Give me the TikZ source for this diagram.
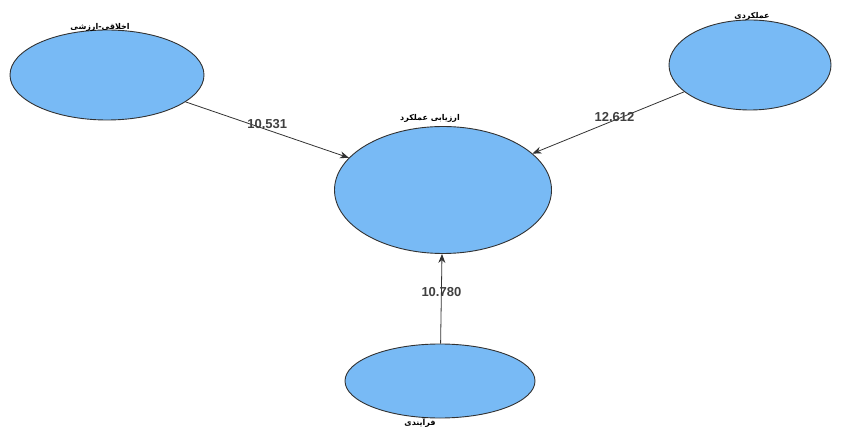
\documentclass[tikz,border=0pt]{standalone}
\usepackage{fontspec}
\setmainfont{Liberation Sans}
\newfontfamily\arabicfont[Script=Arabic]{DejaVu Sans}
\TeXXeTstate=1
\usetikzlibrary{shapes.geometric,arrows.meta}
\definecolor{bubble}{RGB}{120,186,245}
\definecolor{linegray}{RGB}{50,50,50}
\begin{document}
\begin{tikzpicture}[x=1pt,y=-1pt,
            construct/.style={ellipse, draw=linegray, fill=bubble, line width=0.9pt, inner sep=0pt},
            path/.style={draw=linegray, line width=0.8pt, -{Stealth[length=9pt,width=7pt]}},
            weight/.style={font=\bfseries\fontsize{13}{13}\selectfont, text=black!75},
            caption/.style={font=\arabicfont\bfseries\fontsize{8}{8}\selectfont}
        ]
        \useasboundingbox (0,0) rectangle (853,430);

        % Constructs: three outer ones feeding the central one
        \node[construct, minimum width=194pt, minimum height=90pt] (ethics) at (107,75) {};
        \node[construct, minimum width=162pt, minimum height=90pt] (perf) at (750,65) {};
        \node[construct, minimum width=217pt, minimum height=127pt] (eval) at (443,190) {};
        \node[construct, minimum width=190pt, minimum height=74pt] (proc) at (440,381) {};

        % Captions above each construct
        \node[caption] (ethicsname) at (100,27) {\beginR اخلاقی-ارزشی\endR};
        \node[caption] (perfname) at (752,16) {\beginR عملکردی\endR};
        \node[caption] (evalname) at (430,118) {\beginR ارزیابی عملکرد\endR};
        \node[caption, inner sep=1pt] (procname) at (420,423) {\beginR فرآیندی\endR};

        % Paths with their weights
        \draw[path] (ethics) -- (eval) node[weight, pos=0.5, above=-3pt] (w1) {10.531};
        \draw[path] (perf) -- (eval) node[weight, pos=0.46, above=-5pt] (w2) {12.612};
        \draw[path] (proc) -- (eval) node[weight, pos=0.57] (w3) {10.780};
    \end{tikzpicture}
\end{document}
